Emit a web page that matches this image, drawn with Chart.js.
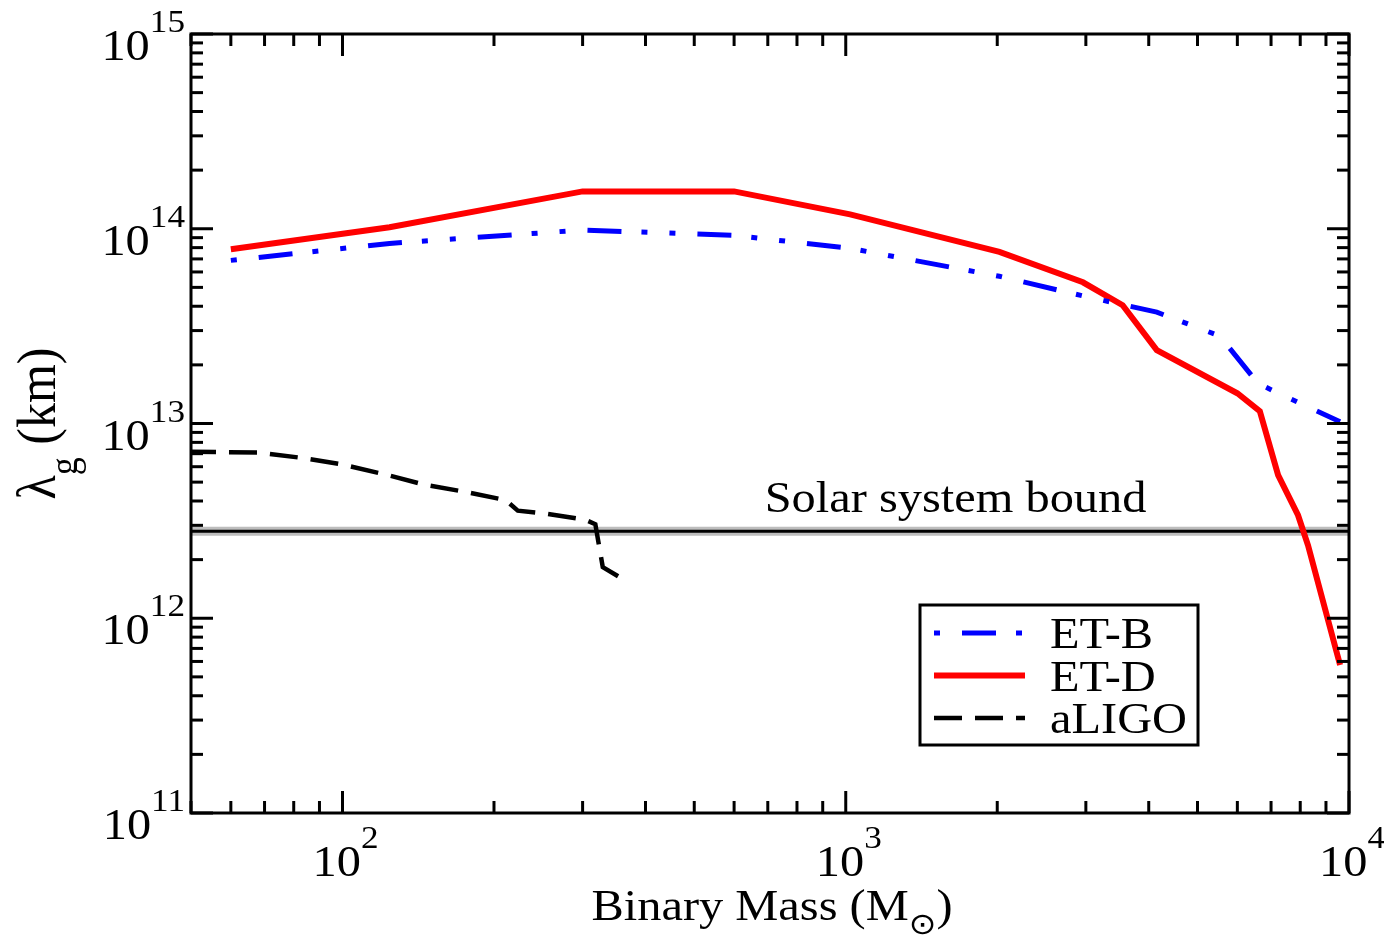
<!DOCTYPE html>
<html>
<head>
<meta charset="utf-8">
<script src="https://cdn.jsdelivr.net/npm/chart.js@4.4.0/dist/chart.umd.min.js"></script>
<style>
  html, body { margin: 0; padding: 0; background: #fff; }
  canvas { display: block; }
</style>
</head>
<body>
<canvas id="lambdaChart" width="1384" height="938"></canvas>
<script>
// binary mass (solar masses) vs. bound on graviton wavelength lambda_g (km)
const etbMass   = [60, 124, 300, 600, 1020, 2020, 2960, 4150, 5540, 6590, 7160, 9600];
const etbLambda = [6.88e13, 8.41e13, 9.85e13, 9.25e13, 7.93e13, 5.70e13, 4.52e13, 3.73e13, 2.81e13, 1.61e13, 1.45e13, 1.02e13];

const etdMass   = [60, 124, 300, 600, 1020, 2020, 2960, 3550, 4150, 6000, 6650, 7230, 7920, 8290, 9600];
const etdLambda = [7.84e13, 1.017e14, 1.555e14, 1.555e14, 1.186e14, 7.6e13, 5.31e13, 4.05e13, 2.38e13, 1.43e13, 1.157e13, 5.43e12, 3.38e12, 2.37e12, 5.75e11];

const aligoMass   = [50, 68, 83, 100, 121, 145, 175, 211, 223, 252, 303, 318, 329, 359];
const aligoLambda = [7.15e12, 7.10e12, 6.66e12, 6.16e12, 5.49e12, 4.86e12, 4.46e12, 4.04e12, 3.57e12, 3.45e12, 3.21e12, 3.04e12, 1.83e12, 1.60e12];

const solarBound = 2.8e12;
const massRange = [50, 1e4];
const lambdaRange = [1e11, 1e15];
const xDecades = [2, 3, 4];
const yDecades = [11, 12, 13, 14, 15];

const SERIF = '"Liberation Serif", "Times New Roman", serif';
const STRETCH = 1.1;

function pts(xs, ys) { return xs.map((x, i) => ({ x: x, y: ys[i] })); }

function textW(ctx, s, size, family) {
  ctx.font = size + 'px ' + (family || SERIF);
  return ctx.measureText(s).width * STRETCH;
}
function put(ctx, s, x, y, size, family) {
  ctx.save();
  ctx.font = size + 'px ' + (family || SERIF);
  ctx.textAlign = 'left';
  ctx.textBaseline = 'alphabetic';
  ctx.fillStyle = '#000';
  ctx.translate(x, y);
  ctx.scale(STRETCH, 1);
  ctx.fillText(s, 0, 0);
  ctx.restore();
}
// "10" with a raised exponent, left edge at x
function power(ctx, exp, x, y) {
  put(ctx, '10', x, y, 44);
  put(ctx, String(exp), x + textW(ctx, '10', 44), y - 28, 32);
}
function powerW(ctx, exp) { return textW(ctx, '10', 44) + textW(ctx, String(exp), 32); }

// 1..9 x 10^k inside a range
function logTicks(min, max) {
  const out = [];
  for (let k = Math.floor(Math.log10(min)); k <= Math.ceil(Math.log10(max)); k++) {
    for (let m = 1; m <= 9; m++) {
      const v = m * Math.pow(10, k);
      if (v >= min * 0.999 && v <= max * 1.001) out.push({ v: v, major: m === 1 });
    }
  }
  return out;
}

function line(ctx, x1, y1, x2, y2) {
  ctx.beginPath(); ctx.moveTo(x1, y1); ctx.lineTo(x2, y2); ctx.stroke();
}

const framePlugin = {
  id: 'frame',
  afterDatasetsDraw(chart) {
    const ctx = chart.ctx, a = chart.chartArea;
    const xs = chart.scales.x, ys = chart.scales.y;
    ctx.save();
    ctx.strokeStyle = '#000';
    ctx.lineCap = 'butt';

    // inward ticks on all four sides
    ctx.lineWidth = 3;
    logTicks(massRange[0], massRange[1]).forEach(t => {
      const px = xs.getPixelForValue(t.v);
      const len = t.major ? 22 : 12;
      line(ctx, px, a.bottom, px, a.bottom - len);
      line(ctx, px, a.top, px, a.top + len);
    });
    logTicks(lambdaRange[0], lambdaRange[1]).forEach(t => {
      const py = ys.getPixelForValue(t.v);
      const len = t.major ? 22 : 12;
      line(ctx, a.left, py, a.left + len, py);
      line(ctx, a.right, py, a.right - len, py);
    });
    ctx.strokeRect(a.left, a.top, a.right - a.left, a.bottom - a.top);

    // tick labels
    xDecades.forEach(k => {
      const px = xs.getPixelForValue(Math.pow(10, k));
      power(ctx, k, px + 3 - powerW(ctx, k) / 2, 876);
    });
    yDecades.forEach(k => {
      const py = ys.getPixelForValue(Math.pow(10, k));
      power(ctx, k, 185 - powerW(ctx, k), py + 26);
    });

    // x title: Binary Mass (M_sun)
    const t1 = 'Binary Mass (M', t2 = ')';
    const sunFont = '"DejaVu Sans", sans-serif';
    const w1 = textW(ctx, t1, 44), ws = textW(ctx, '\u2299', 30, sunFont), w2 = textW(ctx, t2, 44);
    let tx = (a.left + a.right) / 2 + 2 - (w1 + ws + w2) / 2;
    put(ctx, t1, tx, 920, 44); tx += w1;
    put(ctx, '\u2299', tx, 934, 30, sunFont); tx += ws;
    put(ctx, t2, tx, 920, 44);

    // y title: lambda_g (km), rotated
    ctx.save();
    ctx.translate(55, (a.top + a.bottom) / 2);
    ctx.rotate(-Math.PI / 2);
    ctx.scale(1, STRETCH);
    ctx.fillStyle = '#000';
    ctx.textBaseline = 'alphabetic';
    ctx.font = '50px ' + SERIF; const wl = ctx.measureText('\u03bb').width;
    ctx.font = '36px ' + SERIF; const wg = ctx.measureText('g').width;
    ctx.font = '50px ' + SERIF; const wk = ctx.measureText(' (km)').width;
    let ty = -(wl + wg + wk) / 2;
    ctx.font = '50px ' + SERIF; ctx.fillText('\u03bb', ty, 0); ty += wl;
    ctx.font = '36px ' + SERIF; ctx.fillText('g', ty, 20); ty += wg;
    ctx.font = '50px ' + SERIF; ctx.fillText(' (km)', ty, 0);
    ctx.restore();

    // annotation above the bound line
    put(ctx, 'Solar system bound', xs.getPixelForValue(690), ys.getPixelForValue(solarBound) - 19, 44);

    // legend
    const lx = a.right - 429, ly = a.top + 571, lw = 278, lh = 140;
    ctx.fillStyle = '#fff';
    ctx.fillRect(lx, ly, lw, lh);
    ctx.lineWidth = 3;
    ctx.strokeStyle = '#000';
    ctx.strokeRect(lx, ly, lw, lh);
    const shown = chart.data.datasets.filter(d => d.inLegend);
    shown.forEach((d, i) => {
      const y = ly + 28 + i * 42.5;
      ctx.save();
      ctx.strokeStyle = d.borderColor;
      ctx.lineWidth = d.borderWidth;
      ctx.setLineDash(d.borderDash || []);
      ctx.lineDashOffset = d.legendDashOffset || 0;
      line(ctx, lx + 14, y, lx + 105, y);
      ctx.restore();
      put(ctx, d.label, lx + 130, y + 15, 44);
    });
    ctx.restore();
  }
};

new Chart(document.getElementById('lambdaChart'), {
  type: 'line',
  data: {
    datasets: [
      {
        label: 'ET-B', inLegend: true,
        data: pts(etbMass, etbLambda),
        borderColor: '#0000ff', borderWidth: 5,
        borderDash: [34, 20, 6, 22, 6, 22], borderDashOffset: 82, legendDashOffset: 82,
        order: 1
      },
      {
        label: 'ET-D', inLegend: true,
        data: pts(etdMass, etdLambda),
        borderColor: '#ff0000', borderWidth: 6,
        order: 2
      },
      {
        label: 'aLIGO', inLegend: true,
        data: pts(aligoMass, aligoLambda),
        borderColor: '#000000', borderWidth: 4.5,
        borderDash: [28, 13], borderDashOffset: 3,
        order: 3
      },
      {
        label: 'Solar system bound',
        data: pts(massRange, [solarBound, solarBound]),
        borderColor: '#000000', borderWidth: 3,
        order: 4
      },
      {
        label: 'bound halo',
        data: pts(massRange, [solarBound, solarBound]),
        borderColor: '#bdbdbd', borderWidth: 9,
        order: 5
      }
    ]
  },
  options: {
    responsive: false,
    animation: false,
    devicePixelRatio: 1,
    layout: { padding: { top: 34, right: 35, left: 0, bottom: 0 } },
    elements: { point: { radius: 0 }, line: { tension: 0, fill: false } },
    plugins: { legend: { display: false }, tooltip: { enabled: false } },
    scales: {
      x: {
        type: 'logarithmic', min: massRange[0], max: massRange[1],
        grid: { display: false }, border: { display: false },
        ticks: { display: false },
        afterFit: s => { s.height = 125; }
      },
      y: {
        type: 'logarithmic', min: lambdaRange[0], max: lambdaRange[1],
        grid: { display: false }, border: { display: false },
        ticks: { display: false },
        afterFit: s => { s.width = 191; }
      }
    }
  },
  plugins: [framePlugin]
});
</script>
</body>
</html>
